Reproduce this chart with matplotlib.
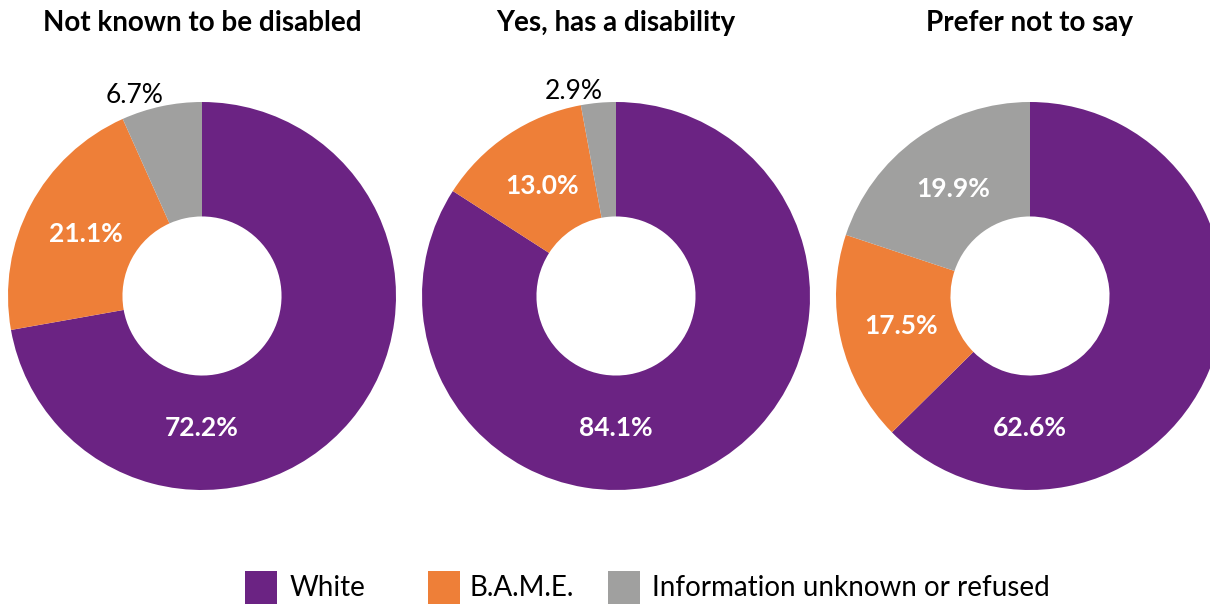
import numpy as np
import matplotlib
matplotlib.use("Agg")
import matplotlib.pyplot as plt
from matplotlib.patches import Rectangle

plt.rcParams["font.family"] = ["Lato", "DejaVu Sans"]

titles = ["Not known to be disabled", "Yes, has a disability", "Prefer not to say"]
categories = ["White", "B.A.M.E.", "Information unknown or refused"]
white = [72.2, 84.1, 62.6]
bame = [21.1, 13.0, 17.5]
unknown = [6.7, 2.9, 19.9]

colors = ["#6b2383", "#ee7f38", "#a0a09f"]

W, H = 1210, 610
fig = plt.figure(figsize=(W / 100, H / 100), dpi=100)

centers_px = [202, 616, 1030]
radius_px = 194
cy_px = 314

for i, title in enumerate(titles):
    left = (centers_px[i] - radius_px) / W
    bottom = (cy_px - radius_px) / H
    ax = fig.add_axes([left, bottom, 2 * radius_px / W, 2 * radius_px / H])
    vals = [white[i], bame[i], unknown[i]]
    wedges, _ = ax.pie(vals, colors=colors, startangle=90, counterclock=False,
                       radius=1.0, wedgeprops=dict(width=0.59, linewidth=0))
    ax.set_xlim(-1, 1)
    ax.set_ylim(-1, 1)
    ax.set_aspect("equal")

    for j, (w, v) in enumerate(zip(wedges, vals)):
        mid = np.deg2rad((w.theta1 + w.theta2) / 2)
        txt = f"{v:.1f}%"
        if j == 0:
            # white share sits at the bottom of the ring
            ax.text(0, -0.68, txt, ha="center", va="center", color="white",
                    fontsize=19, fontweight="bold")
        elif v < 10:
            ax.text(1.09 * np.cos(mid) - 0.12, 1.09 * np.sin(mid) - 0.03, txt,
                    ha="center", va="center", color="black", fontsize=19)
        else:
            ax.text(0.68 * np.cos(mid), 0.68 * np.sin(mid), txt, ha="center",
                    va="center", color="white", fontsize=19, fontweight="bold")

    fig.text(centers_px[i] / W, 1 - 23 / H, title, ha="center", va="center",
             fontsize=20, fontweight="bold")

# legend drawn by hand so spacing follows the original
box_x = [245, 428, 608]
text_x = [290, 470, 652]
for c, label, bx, tx in zip(colors, categories, box_x, text_x):
    fig.patches.append(Rectangle((bx / W, 1 - 604 / H), 32 / W, 33 / H,
                                 transform=fig.transFigure, facecolor=c,
                                 edgecolor="none"))
    fig.text(tx / W, 1 - 588 / H, label, ha="left", va="center", fontsize=20)

fig.savefig("out.png", dpi=100)
